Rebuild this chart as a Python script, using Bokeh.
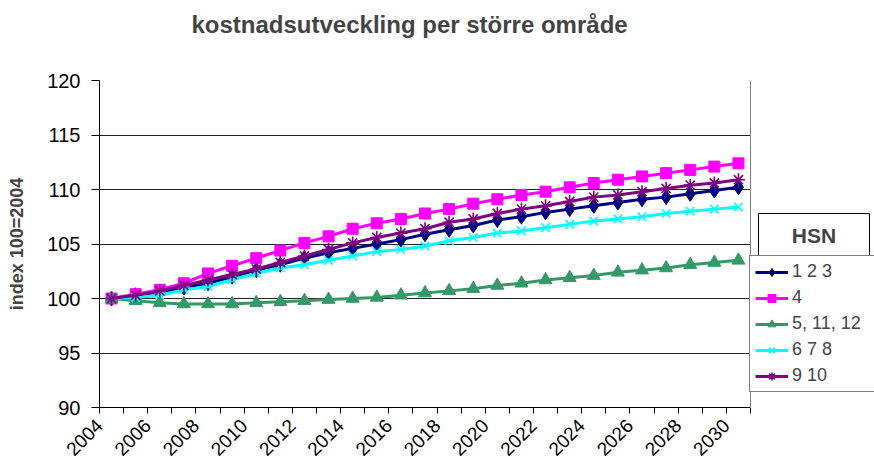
import math
from bokeh.plotting import figure
from bokeh.models import Range1d, FixedTicker, Legend, LegendItem, Label, BoxAnnotation, Span, Title
from bokeh.embed import file_html
from bokeh.resources import INLINE

# ---------------- data ----------------
years = [2004, 2005, 2006, 2007, 2008, 2009, 2010, 2011, 2012, 2013, 2014, 2015, 2016,
         2017, 2018, 2019, 2020, 2021, 2022, 2023, 2024, 2025, 2026, 2027, 2028, 2029, 2030]
tick_years = [2004, 2006, 2008, 2010, 2012, 2014, 2016, 2018, 2020, 2022, 2024, 2026, 2028, 2030]
y_ticks = [90, 95, 100, 105, 110, 115, 120]

s_123 = [100.0, 100.3, 100.6, 101.0, 101.4, 102.0, 102.6, 103.1, 103.7, 104.2, 104.6, 105.0, 105.4,
         105.9, 106.3, 106.7, 107.2, 107.5, 107.9, 108.2, 108.5, 108.8, 109.1, 109.3, 109.6, 109.9, 110.2]
s_4 = [100.0, 100.4, 100.8, 101.4, 102.3, 103.0, 103.7, 104.4, 105.1, 105.7, 106.4, 106.9, 107.3,
       107.8, 108.2, 108.7, 109.1, 109.5, 109.8, 110.2, 110.6, 110.9, 111.2, 111.5, 111.8, 112.1, 112.4]
s_5_11_12 = [100.0, 99.8, 99.6, 99.5, 99.5, 99.5, 99.6, 99.7, 99.8, 99.9, 100.0, 100.1, 100.3,
             100.5, 100.7, 100.9, 101.2, 101.4, 101.7, 101.9, 102.1, 102.4, 102.6, 102.8, 103.1, 103.3, 103.5]
s_678 = [100.0, 100.1, 100.3, 100.8, 101.1, 101.7, 102.3, 102.8, 103.1, 103.5, 103.9, 104.3, 104.5,
         104.8, 105.3, 105.6, 106.0, 106.2, 106.5, 106.8, 107.1, 107.3, 107.5, 107.8, 108.0, 108.2, 108.4]
s_9_10 = [100.0, 100.3, 100.7, 101.2, 101.7, 102.2, 102.7, 103.3, 103.9, 104.5, 105.1, 105.6, 106.0,
          106.4, 107.0, 107.3, 107.8, 108.2, 108.5, 108.9, 109.3, 109.5, 109.8, 110.1, 110.4, 110.6, 110.9]

series_names = ["1 2 3", "4", "5, 11, 12", "6 7 8", "9 10"]
series_values = [s_123, s_4, s_5_11_12, s_678, s_9_10]
colors = ["#000080", "#FF00FF", "#339966", "#00FFFF", "#800080"]
markers = ["diamond", "square", "triangle", "x", "asterisk"]
msizes = [15, 11, 13, 12, 13]

title_text = "kostnadsutveckling per större område"
y_label = "index 100=2004"
legend_title = "HSN"

FONT = "Liberation Sans"

# ---------------- layout (pixels) ----------------
W, H = 874, 467
FRAME_LEFT, FRAME_TOP, FRAME_BOTTOM = 99, 80, 407
PLOT_AREA_RIGHT = 750          # where the category axis ends
x_lo = years[0] - 0.5
x_hi_axis = years[-1] + 0.5
px_per_cat = (PLOT_AREA_RIGHT - FRAME_LEFT) / (x_hi_axis - x_lo)
x_hi_frame = x_lo + (W - FRAME_LEFT) / px_per_cat
LABEL_SHIFT = 0.5              # rotated labels sit a little left of the category centre

p = figure(width=W, height=H, output_backend="svg", toolbar_location=None,
           x_range=Range1d(x_lo, x_hi_frame), y_range=Range1d(y_ticks[0], y_ticks[-1]),
           min_border_left=FRAME_LEFT, min_border_right=0,
           min_border_top=FRAME_TOP, min_border_bottom=H - FRAME_BOTTOM)

p.background_fill_color = "white"
p.border_fill_color = "white"
p.outline_line_color = None

# the real title (outermost in the "above" panel)
p.title.text = title_text
p.title.text_font = FONT
p.title.text_font_style = "bold"
p.title.text_font_size = "24px"
p.title.align = "left"
p.title.offset = 92
p.title.vertical_align = "top"
p.title.standoff = 0

# white-on-white spacer between title and plot area
spacer = Title(text=".", text_color="white", text_font_size="12px", standoff=30)
p.add_layout(spacer, "above")

# x axis
boundaries = [y - 0.5 for y in years] + [years[-1] + 0.5]
label_pos = [t - LABEL_SHIFT for t in tick_years]
p.xaxis.bounds = (x_lo, x_hi_axis)
p.xaxis.ticker = FixedTicker(ticks=label_pos, minor_ticks=boundaries)
p.xaxis.major_label_overrides = {pos: str(t) for pos, t in zip(label_pos, tick_years)}
p.xaxis.major_tick_line_color = None
p.xaxis.minor_tick_line_color = "black"
p.xaxis.minor_tick_in = 0
p.xaxis.minor_tick_out = 6
p.xaxis.axis_line_color = "black"
p.xaxis.major_label_orientation = math.pi / 4
p.xaxis.major_label_text_font = FONT
p.xaxis.major_label_text_font_size = "19px"
p.xaxis.major_label_text_color = "black"
p.xaxis.major_label_standoff = 9
p.xgrid.grid_line_color = None

# y axis
p.yaxis.ticker = FixedTicker(ticks=y_ticks)
p.yaxis.minor_tick_line_color = None
p.yaxis.major_tick_in = 0
p.yaxis.major_tick_out = 8
p.yaxis.major_tick_line_color = "black"
p.yaxis.axis_line_color = "black"
p.yaxis.major_label_text_font = FONT
p.yaxis.major_label_text_font_size = "20px"
p.yaxis.major_label_text_color = "black"
p.yaxis.major_label_standoff = 11
p.yaxis.axis_label = y_label
p.yaxis.axis_label_text_font = FONT
p.yaxis.axis_label_text_font_style = "bold"
p.yaxis.axis_label_text_font_size = "18px"
p.yaxis.axis_label_standoff = 17
p.ygrid.grid_line_color = "#202020"
p.ygrid.grid_line_width = 1

items = []
for name, vals, col, mk, ms in zip(series_names, series_values, colors, markers, msizes):
    lr = p.line(years, vals, line_color=col, line_width=3)
    if mk in ("x", "asterisk"):
        sr = p.scatter(years, vals, marker=mk, size=ms, line_color=col, line_width=1.6)
    else:
        sr = p.scatter(years, vals, marker=mk, size=ms, fill_color=col, line_color=col)
    items.append(LegendItem(label=name, renderers=[lr, sr]))

# white area right of the plot area (legend zone), plus the grey plot-area edge
p.add_layout(BoxAnnotation(left=x_hi_axis, fill_color="white", fill_alpha=1.0, line_alpha=0))
p.add_layout(Span(location=x_hi_axis, dimension="height", line_color="#808080", line_width=1))

LEG_LEFT, LEG_TOP, LEG_H = 749, 257, 135
legend = Legend(items=items, location=(LEG_LEFT - FRAME_LEFT, FRAME_BOTTOM - (LEG_TOP + LEG_H)),
                label_text_font=FONT, label_text_font_size="18px",
                glyph_width=33, glyph_height=20, label_height=20, label_width=120,
                spacing=5, padding=5, margin=0, label_standoff=4,
                border_line_color="black", border_line_width=1,
                background_fill_color="white", background_fill_alpha=1)
p.add_layout(legend)

# "HSN" header box above the legend
HSN_L, HSN_R, HSN_T, HSN_B = 758, 869, 213, 257
p.add_layout(BoxAnnotation(left=HSN_L - FRAME_LEFT, right=HSN_R - FRAME_LEFT,
                           top=FRAME_BOTTOM - HSN_T, bottom=FRAME_BOTTOM - HSN_B,
                           left_units="screen", right_units="screen",
                           top_units="screen", bottom_units="screen",
                           fill_color="white", fill_alpha=1.0,
                           line_color="black", line_width=1, line_alpha=1.0))
hsn = Label(x=(HSN_L + HSN_R) / 2 - FRAME_LEFT, y=FRAME_BOTTOM - (HSN_T + HSN_B) / 2,
            x_units="screen", y_units="screen",
            text=legend_title, text_align="center", text_baseline="middle", text_font=FONT,
            text_font_style="bold", text_font_size="21px")
p.add_layout(hsn)

open("out.html", "w").write(file_html(p, INLINE))
